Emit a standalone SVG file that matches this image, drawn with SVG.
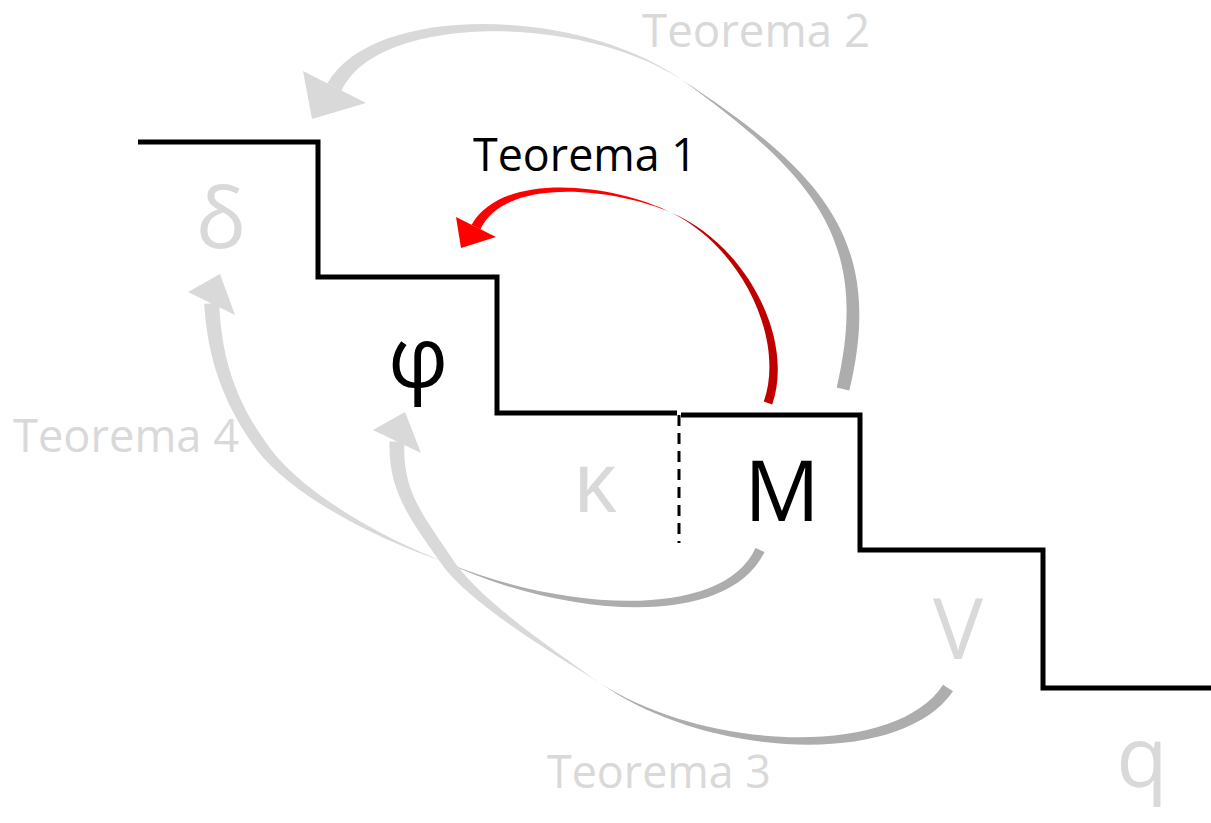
<svg xmlns="http://www.w3.org/2000/svg" width="1211" height="823" viewBox="0 0 1211 823">
<style>
.lbl{font-family:"Open Sans","Liberation Sans",sans-serif;font-size:45px}
.sym{font-family:"Open Sans","Liberation Sans",sans-serif;font-size:84px;text-anchor:middle}
.g{fill:#D9D9D9}
.k{fill:#000}
.hg{fill:#D9D9D9}
.tg{fill:#ADADAD}
.hr{fill:#FF0000}
.tr{fill:#C00000}
.step{fill:none;stroke:#000;stroke-width:5;stroke-linejoin:miter;stroke-linecap:butt}
</style>
<rect width="1211" height="823" fill="#fff"/>
<g id="connectors">
  <g id="arrow-teorema2">
    <path class="hg" d="M327.4,83.35 C373.2,2.3 580.7,7.1 682,80 C579.3,12.9 376.8,13.7 341.6,90.65 Z"/>
    <path class="tg" d="M682,80 C824.6,172.9 885,242.8 849.3,390.5 L836.7,387.5 C870,244.2 819.4,179.1 682,80 Z"/>
    <polygon class="hg" points="303,71 312,119 366,103"/>
  </g>
  <g id="arrow-teorema1">
    <path class="hr" d="M471.6,224.7 C504.1,168.8 618.4,185.3 672,213 C617.6,188.7 505.9,175.2 480.4,229.3 Z"/>
    <path class="tr" d="M672,213 C746.8,245.3 794.75,339.3 772.2,404.5 L763.8,401.5 C785.25,340.7 743.2,248.7 672,213 Z"/>
    <polygon class="hr" points="456,217 461,248 496,237"/>
  </g>
  <g id="arrow-teorema4">
    <path class="hg" d="M219.2,302.9 C221.4,356.9 235,399.7 266.7,443.6 C300.2,492.7 384.55,539.2 445,562 C383.25,541.9 294.6,498.5 257.3,450.4 C224,405.3 207.6,359.7 204.2,303.7 Z"/>
    <path class="tg" d="M445,562 C565.7,612.1 723.2,619.8 755.5,547.9 L764.5,552.1 C726.8,630.2 564.3,617.9 445,562 Z"/>
    <polygon class="hg" points="188,292 220,274 235,315"/>
  </g>
  <g id="arrow-teorema3">
    <path class="hg" d="M404.5,441.5 C402,489.3 420.8,512.1 451,556.7 C477,598.7 555.25,651 600,683 C553.45,653.4 470,604.3 441,563.3 C409.2,517.9 388,490.7 389.5,441.5 Z"/>
    <path class="tg" d="M600,683 C708.7,752.9 896.9,756.9 943,684.7 L953,691.3 C900.1,768.5 707.1,758.7 600,683 Z"/>
    <polygon class="hg" points="373,430 405,412 421,453"/>
  </g>
</g>
<g id="staircase">
  <polyline class="step" points="138,142 318,142 318,277 497,277 497,413 677,413"/>
  <polyline class="step" points="681,415 860,415 860,550 1043,550 1043,688 1211,688"/>
  <line x1="679" y1="415" x2="679" y2="543" stroke="#000" stroke-width="3" stroke-dasharray="11 7"/>
</g>
<g id="label-teorema2"><text class="lbl g" x="642" y="47" textLength="228" lengthAdjust="spacingAndGlyphs">Teorema 2</text></g>
<g id="label-teorema1"><text class="lbl k" x="473" y="171" textLength="224" lengthAdjust="spacingAndGlyphs">Teorema 1</text></g>
<g id="label-teorema4"><text class="lbl g" x="13" y="452" textLength="226" lengthAdjust="spacingAndGlyphs">Teorema 4</text></g>
<g id="label-teorema3"><text class="lbl g" x="547" y="788" textLength="224" lengthAdjust="spacingAndGlyphs">Teorema 3</text></g>
<g id="node-delta"><text class="sym g" x="221" y="248">δ</text></g>
<g id="node-phi"><text class="sym k" x="418" y="387">φ</text></g>
<g id="node-kappa"><text class="sym g" x="595" y="512">κ</text></g>
<g id="node-M"><text class="sym k" x="782" y="521">M</text></g>
<g id="node-V"><text class="sym g" x="958" y="659">V</text></g>
<g id="node-q"><text class="sym g" x="1142" y="787">q</text></g>
</svg>
